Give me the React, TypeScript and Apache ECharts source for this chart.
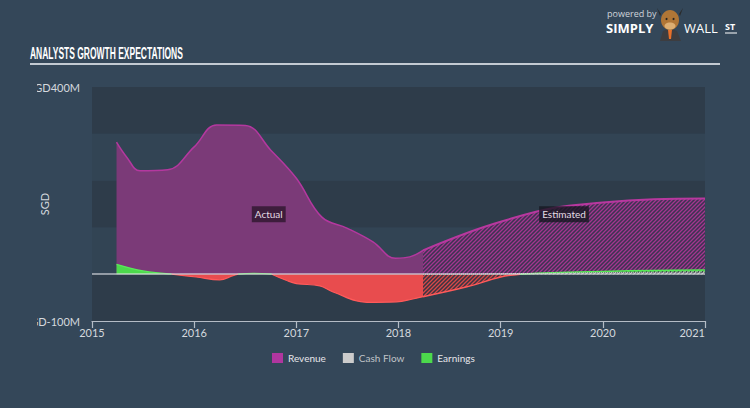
import React, { useEffect, useRef } from 'react';
import * as echarts from 'echarts';

// ---- data (values in SGD millions, x in decimal years) ----
const yearTicks = [2015, 2016, 2017, 2018, 2019, 2020, 2021];

const revenueActualX = [2015.24, 2015.34, 2015.47, 2015.74, 2016.0, 2016.22, 2016.5, 2016.75, 2017.0, 2017.25, 2017.5, 2017.75, 2017.97, 2018.11, 2018.24];
const revenueActualY = [282, 250, 221, 223, 272, 319, 318, 265, 205, 122, 98, 69, 34, 37, 51];

const revenueEstX = [2018.24, 2018.67, 2019.0, 2019.5, 2020.0, 2020.5, 2021.0];
const revenueEstY = [51, 88, 112, 141, 153, 160, 162];

const earningsActualX = [2015.24, 2015.5, 2015.78, 2016.02, 2016.25, 2016.38, 2016.43, 2016.58, 2016.76, 2016.9, 2017.0, 2017.23, 2017.36, 2017.69, 2017.98, 2018.14, 2018.24];
const earningsActualY = [21, 7, 0, -6, -12, -3, 0, 2, 0, -13, -20, -25, -38, -60, -59, -53, -48];

const earningsEstX = [2018.24, 2018.67, 2019.0, 2019.19, 2019.5, 2020.0, 2020.5, 2021.0];
const earningsEstY = [-48, -27, -6, 0, 3, 6, 8, 9];

const cashFlowEstX = [2018.24, 2019.0, 2020.0, 2021.0];
const cashFlowEstY = [0, 1, 3.5, 5];

const yLabelTicks = [-100, 400];

const BG = '#344759';
const FONT = 'Lato, "Open Sans", sans-serif';

function zip(xs: number[], ys: (number | null)[]) {
  return xs.map((x, i) => [x, ys[i]]);
}

function hatch(bg: string, fg: string, size = 4) {
  const c = document.createElement('canvas');
  c.width = size;
  c.height = size;
  const ctx = c.getContext('2d')!;
  ctx.fillStyle = bg;
  ctx.fillRect(0, 0, size, size);
  ctx.strokeStyle = fg;
  ctx.lineWidth = 1.3;
  ctx.beginPath();
  ctx.moveTo(0, size);
  ctx.lineTo(size, 0);
  ctx.moveTo(-1, 1);
  ctx.lineTo(1, -1);
  ctx.moveTo(size - 1, size + 1);
  ctx.lineTo(size + 1, size - 1);
  ctx.stroke();
  return { image: c, repeat: 'repeat', imageWidth: size, imageHeight: size } as any;
}

const posPart = (ys: number[]) => ys.map((v) => (v >= 0 ? v : null));
const negPart = (ys: number[]) => ys.map((v) => (v <= 0 ? v : null));

export default function App() {
  const ref = useRef<HTMLDivElement>(null);

  useEffect(() => {
    document.body.style.margin = '0';
    const chart = echarts.init(ref.current!, null, { renderer: 'svg' });

    const baseLine = {
      type: 'line',
      smooth: 0.4,
      symbol: 'none',
      showSymbol: false,
      silent: true,
      connectNulls: false,
    };

    const option: any = {
      animation: false,
      backgroundColor: BG,
      grid: { left: 92, right: 45, top: 87, bottom: 87, outerBoundsMode: 'none', containLabel: false },
      legend: {
        left: 272,
        top: 353,
        padding: 0,
        itemWidth: 11,
        itemHeight: 10,
        itemGap: 17,
        icon: 'rect',
        selectedMode: false,
        textStyle: { color: '#e6e6ea', fontSize: 10, fontFamily: FONT },
        data: [
          { name: 'Revenue', itemStyle: { color: '#b0369f', borderWidth: 0 } },
          { name: 'Cash Flow', itemStyle: { color: '#cccccc', borderWidth: 0 }, textStyle: { color: '#c0c4c8' } },
          { name: 'Earnings', itemStyle: { color: '#4cd94c', borderWidth: 0 } },
        ],
      },
      xAxis: {
        type: 'value',
        min: 2015,
        max: 2021,
        interval: 1,
        axisLine: { show: true, onZero: false, lineStyle: { color: '#b4bcc6', width: 1.2 } },
        axisTick: { show: true, length: 7, lineStyle: { color: '#b4bcc6', width: 1.2 } },
        axisLabel: {
          color: '#d4d9de',
          fontSize: 11,
          margin: 6,
          fontFamily: FONT,
          alignMaxLabel: 'right',
          formatter: (v: number) => (yearTicks.includes(v) ? String(v) : ''),
        },
        splitLine: { show: false },
      },
      yAxis: {
        type: 'value',
        min: -100,
        max: 400,
        interval: 100,
        name: 'SGD',
        nameLocation: 'middle',
        nameGap: 42,
        nameMoveOverlap: false,
        nameTextStyle: { color: '#d4d9de', fontSize: 11, fontFamily: FONT },
        axisLine: { show: false },
        axisTick: { show: false },
        axisLabel: {
          color: '#d4d9de',
          fontSize: 11,
          margin: 12,
          fontFamily: FONT,
          formatter: (v: number) => (yLabelTicks.includes(v) ? 'SGD' + v + 'M' : ''),
        },
        splitLine: { show: false },
        splitArea: { show: true, areaStyle: { color: ['#2e3c4a', '#324454'] } },
      },
      series: [
        {
          ...baseLine,
          name: 'Revenue',
          data: zip(revenueActualX, revenueActualY),
          lineStyle: { color: '#b4389f', width: 1.5 },
          itemStyle: { color: '#b0369f' },
          areaStyle: { color: '#7b3a78', opacity: 1 },
          markPoint: {
            silent: true,
            symbol: 'rect',
            symbolSize: 1,
            itemStyle: { color: 'rgba(0,0,0,0)' },
            label: {
              show: true,
              position: 'inside',
              color: '#e4dce4',
              fontSize: 10,
              fontFamily: FONT,
              backgroundColor: 'rgba(0,0,0,0.5)',
              padding: [3, 3, 3, 3],
              formatter: 'Actual',
            },
            data: [{ coord: [2016.73, 128] }],
          },
        },
        {
          ...baseLine,
          name: 'Revenue',
          data: zip(revenueEstX, revenueEstY),
          lineStyle: { color: '#b8389f', width: 2 },
          itemStyle: { color: '#b0369f' },
          areaStyle: { color: hatch('#3c3352', '#a4368f'), opacity: 1 },
          markPoint: {
            silent: true,
            symbol: 'rect',
            symbolSize: 1,
            itemStyle: { color: 'rgba(0,0,0,0)' },
            label: {
              show: true,
              position: 'inside',
              color: '#e4dce4',
              fontSize: 10,
              fontFamily: FONT,
              backgroundColor: 'rgba(22,24,34,0.8)',
              padding: [3, 3, 3, 3],
              formatter: 'Estimated',
            },
            data: [{ coord: [2019.62, 128] }],
          },
        },
        {
          ...baseLine,
          name: 'Earnings',
          data: zip(earningsActualX, posPart(earningsActualY)),
          lineStyle: { color: '#5ae85a', width: 1.2 },
          itemStyle: { color: '#4cd94c' },
          areaStyle: { color: '#4cd94c', opacity: 1 },
        },
        {
          ...baseLine,
          name: 'Earnings',
          data: zip(earningsActualX, negPart(earningsActualY)),
          lineStyle: { color: '#ff5a5a', width: 1.2 },
          itemStyle: { color: '#e84c4c' },
          areaStyle: { color: '#e84c4e', opacity: 1 },
        },
        {
          ...baseLine,
          name: 'Earnings',
          data: zip(earningsEstX, posPart(earningsEstY)),
          lineStyle: { color: '#55e855', width: 1.5 },
          itemStyle: { color: '#4cd94c' },
          areaStyle: { color: hatch('#2f4a3a', '#4cd94c'), opacity: 1 },
        },
        {
          ...baseLine,
          name: 'Earnings',
          data: zip(earningsEstX, negPart(earningsEstY)),
          lineStyle: { color: '#ff5a5a', width: 1.5 },
          itemStyle: { color: '#e84c4c' },
          areaStyle: { color: hatch('#3a3442', '#d84848'), opacity: 1 },
        },
        {
          ...baseLine,
          name: 'Cash Flow',
          data: zip(cashFlowEstX, cashFlowEstY),
          lineStyle: { color: '#c8c8c8', width: 1, type: 'dotted' },
          itemStyle: { color: '#cccccc' },
          areaStyle: { color: hatch('#3a4450', '#b8b8b8'), opacity: 1 },
          markLine: {
            silent: true,
            symbol: 'none',
            label: { show: false },
            lineStyle: { color: 'rgba(225,225,230,0.75)', width: 1.5, type: 'solid' },
            data: [{ yAxis: 0 }],
          },
        },
      ],
      graphic: [
        {
          type: 'text',
          x: 30,
          y: 53,
          scaleX: 0.53,
          z: 100,
          style: {
            text: 'ANALYSTS GROWTH EXPECTATIONS',
            fill: '#ffffff',
            font: 'bold 16px "Liberation Sans", sans-serif',
            textVerticalAlign: 'middle',
            verticalAlign: 'middle',
          },
        },
        {
          type: 'line',
          z: 100,
          shape: { x1: 30, y1: 64, x2: 720, y2: 64 },
          style: { stroke: '#c3cad2', lineWidth: 2 },
        },
        // clip of the leftmost y-label glyphs, as in the reference
        { type: 'rect', z: 100, shape: { x: 0, y: 78, width: 37, height: 18 }, style: { fill: BG } },
        { type: 'rect', z: 100, shape: { x: 0, y: 312, width: 37, height: 18 }, style: { fill: BG } },
        // logo
        {
          type: 'text',
          z: 100,
          left: 607,
          top: 9,
          style: { text: 'powered by', fill: '#cfd4da', font: '9px "Open Sans", sans-serif' },
        },
        {
          type: 'text',
          z: 100,
          left: 606,
          top: 21,
          style: { text: 'SIMPLY', fill: '#ffffff', font: 'bold 13px "Open Sans", sans-serif' },
        },
        {
          type: 'text',
          z: 100,
          left: 684,
          top: 21,
          style: { text: 'WALL', fill: '#ffffff', font: '13px "Open Sans", sans-serif' },
        },
        {
          type: 'text',
          z: 100,
          left: 725,
          top: 22,
          style: { text: 'ST', fill: '#ffffff', font: 'bold 9px "Open Sans", sans-serif' },
        },
        { type: 'line', z: 100, shape: { x1: 725, y1: 33, x2: 737, y2: 33 }, style: { stroke: '#ffffff', lineWidth: 1 } },
        {
          type: 'group',
          z: 100,
          children: [
            { type: 'polygon', z: 100, shape: { points: [[660, 41], [663, 31], [670, 28], [677, 31], [681, 41]] }, style: { fill: '#3d3d40' } },
            { type: 'polygon', z: 101, shape: { points: [[668, 30], [672, 30], [671, 39], [669, 39]] }, style: { fill: '#e8702a' } },
            { type: 'polygon', z: 100, shape: { points: [[661, 14], [657, 8], [660, 16]] }, style: { fill: '#2b2b2b' } },
            { type: 'polygon', z: 100, shape: { points: [[679, 14], [683, 8], [680, 16]] }, style: { fill: '#2b2b2b' } },
            { type: 'ellipse', z: 101, shape: { cx: 670, cy: 20, rx: 9, ry: 10 }, style: { fill: '#b07636' } },
            { type: 'ellipse', z: 102, shape: { cx: 670, cy: 26, rx: 5.5, ry: 3.5 }, style: { fill: '#dcae72' } },
            { type: 'circle', z: 102, shape: { cx: 666.5, cy: 19, r: 1 }, style: { fill: '#222' } },
            { type: 'circle', z: 102, shape: { cx: 673.5, cy: 19, r: 1 }, style: { fill: '#222' } },
          ],
        },
      ],
    };

    chart.setOption(option);
    return () => chart.dispose();
  }, []);

  return <div ref={ref} style={{ position: 'fixed', left: 0, top: 0, width: 750, height: 408 }} />;
}
